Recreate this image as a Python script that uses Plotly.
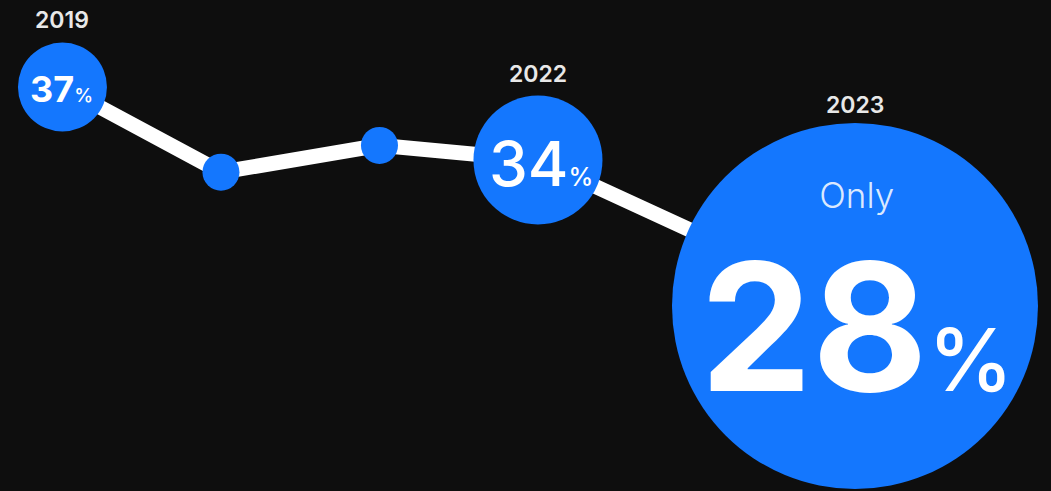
import plotly.graph_objects as go

# ---------------- data ----------------
years = ["2019", "2020", "2021", "2022", "2023"]
share_pct = [37, 33.5, 34.6, 34, 28]
labelled_years = ["2019", "2022", "2023"]
highlight_word = "Only"

# ---------------- style ----------------
BG = "#0e0e0e"
BLUE = "#1477fe"
FONT = "Inter"
GAP = " "  # empty slot on the category axis before the highlighted year
axis_order = ["2019", "2020", "2021", "2022", GAP, "2023"]
dot_diam = {"2019": 89, "2020": 37, "2021": 37, "2022": 129, "2023": 366}
label_gap = {"2019": 6.5, "2022": 5.5, "2023": 2.5}

val = dict(zip(years, share_pct))
pos = {c: i for i, c in enumerate(axis_order)}  # category index on the x axis

fig = go.Figure()
fig.add_trace(go.Scatter(
    x=years, y=share_pct, mode="lines+markers",
    line=dict(color="white", width=15),
    marker=dict(size=[dot_diam[y] for y in years], color=BLUE, opacity=1,
                line=dict(width=0)),
    hoverinfo="skip", showlegend=False,
))

ann = []
# year labels above the labelled circles
for y in labelled_years:
    ann.append(dict(
        x=pos[y], y=val[y], text=y, showarrow=False, xanchor="center", yanchor="bottom",
        yshift=dot_diam[y] / 2 + label_gap[y],
        font=dict(family=FONT, size=23, color="#e8e8e8", weight=600),
    ))

def pct_text(v, pct_size, pct_weight):
    return f"{v:g}<span style='font-size:{pct_size}px;font-weight:{pct_weight}'>%</span>"

# values inside circles
ann.append(dict(x=pos["2019"], y=val["2019"], text=pct_text(val["2019"], 19, 500),
                showarrow=False, xanchor="center", yanchor="middle", xshift=-1, yshift=-2,
                font=dict(family=FONT, size=36, color="white", weight=700)))
ann.append(dict(x=pos["2022"], y=val["2022"], text=pct_text(val["2022"], 25, 500),
                showarrow=False, xanchor="center", yanchor="middle", xshift=3.5, yshift=-3.5,
                font=dict(family=FONT, size=62, color="white", weight=500)))

# highlighted final value: small word on top, huge number below (one text block)
big_text = (
    f"<span style='font-size:35px;font-weight:300;color:rgba(255,255,255,0.86)'>{highlight_word}</span>"
    f"<br><span style='font-size:178px;font-weight:700'>{val['2023']:g}</span>"
    f"<span style='font-size:86px;font-weight:500'>%</span>"
)
ann.append(dict(x=pos["2023"], y=val["2023"], text=big_text,
                showarrow=False, xanchor="center", yanchor="middle", align="center",
                borderpad=0, xshift=2, yshift=2,
                font=dict(family=FONT, size=140.8, color="white")))

fig.update_layout(
    width=1051, height=491,
    margin=dict(l=0, r=0, t=0, b=0),
    paper_bgcolor=BG, plot_bgcolor=BG,
    xaxis=dict(type="category", categoryorder="array", categoryarray=axis_order,
               range=[-0.394, 6.2366], visible=False, fixedrange=True),
    yaxis=dict(range=[20.397, 40.5753], visible=False, fixedrange=True),
    annotations=ann,
    showlegend=False,
)

fig.write_html("out.html", config={"displayModeBar": False},
               post_script="document.body.style.margin='0';document.body.style.overflow='hidden';")
